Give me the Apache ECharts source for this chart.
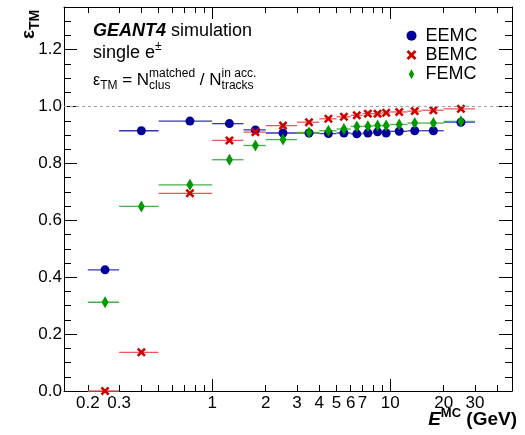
<!DOCTYPE html>
<html>
<head>
<meta charset="utf-8">
<script src="https://cdn.jsdelivr.net/npm/echarts@6/dist/echarts.min.js"></script>
<style>
  html, body { margin: 0; padding: 0; background: #fff; }
  #chart { width: 525px; height: 435px; }
</style>
</head>
<body>
<div id="chart"></div>
<script>
// Track-matching efficiency vs. true energy, single e± in three calorimeters
const binLow    = [0.2, 0.3, 0.5, 1.0, 1.5, 2, 3, 4, 5, 6, 7, 8, 9, 10, 12.5, 15, 20];
const binHigh   = [0.3, 0.5, 1.0, 1.5, 2.0, 3, 4, 5, 6, 7, 8, 9, 10, 12.5, 15, 20, 30];
const energyGeV = [0.25, 0.4, 0.75, 1.25, 1.75, 2.5, 3.5, 4.5, 5.5, 6.5, 7.5, 8.5, 9.5, 11.25, 13.75, 17.5, 25];

const effEEMC = [0.426, 0.915, 0.949, 0.940, 0.918, 0.907, 0.907, 0.905, 0.907, 0.904, 0.907, 0.911, 0.907, 0.913, 0.915, 0.915, 0.945];
const effBEMC = [0.000, 0.136, 0.695, 0.881, 0.910, 0.933, 0.945, 0.957, 0.964, 0.969, 0.975, 0.975, 0.978, 0.981, 0.984, 0.987, 0.992];
const effFEMC = [0.312, 0.649, 0.725, 0.813, 0.863, 0.884, 0.909, 0.915, 0.921, 0.930, 0.931, 0.933, 0.933, 0.937, 0.942, 0.942, 0.948];

const xTickLabels = ['0.2', '0.3', '1', '2', '3', '4', '5', '6', '7', '10', '20', '30'];
const xMajorTicks = [1, 10];
const xMinorTicks = [0.2, 0.3, 0.4, 0.5, 0.6, 0.7, 0.8, 0.9, 2, 3, 4, 5, 6, 7, 8, 9, 20, 30, 40];
const yTickLabels = ['0.0', '0.2', '0.4', '0.6', '0.8', '1.0', '1.2'];
const yMinorTicks = [0.05, 0.1, 0.15, 0.25, 0.3, 0.35, 0.45, 0.5, 0.55, 0.65, 0.7, 0.75,
                     0.85, 0.9, 0.95, 1.05, 1.1, 1.15, 1.25, 1.3];
const xRange = [0.147, 48.4];
const yRange = [0, 1.35];

const FONT = "'Liberation Sans', Arial, Helvetica, sans-serif";
const lg = Math.log10;

// energy axis is drawn logarithmically: positions are log10(E)
const xMin = lg(xRange[0]), xMax = lg(xRange[1]);
const xLabelPos = xTickLabels.map(s => lg(Number(s)));
const xLabelFmt = v => {
  const i = xLabelPos.findIndex(p => Math.abs(p - v) < 1e-9);
  return i >= 0 ? xTickLabels[i] : '';
};
const yMajor = yTickLabels.map(Number);

function markerData(vals) {
  return energyGeV.map((e, i) => [lg(e), vals[i]]);
}
function barData(vals) {
  return vals.map((v, i) => [lg(binLow[i]), lg(binHigh[i]), v]);
}

function barSeries(name, vals, color, extra) {
  return Object.assign({
    name: name,
    type: 'custom',
    data: barData(vals),
    encode: { x: [0, 1], y: 2 },
    clip: false,
    renderItem: function (params, api) {
      const a = api.coord([api.value(0), api.value(2)]);
      const b = api.coord([api.value(1), api.value(2)]);
      return {
        type: 'line',
        shape: { x1: a[0], y1: a[1], x2: b[0], y2: b[1] },
        style: { stroke: color, lineWidth: 1.3 }
      };
    }
  }, extra || {});
}

const X_MARK = 'path://M0,2 L2,0 L5,3 L8,0 L10,2 L7,5 L10,8 L8,10 L5,7 L2,10 L0,8 L3,5 Z';
const DIAMOND = 'path://M3,0 L6,5.5 L3,11 L0,5.5 Z';

const C_E = '#00009a', C_B = '#d00000', C_F = '#009a00';

// ---- text helpers (sub/superscript runs) ----
const ctx = document.createElement('canvas').getContext('2d');
function fontStr(p) {
  return (p.italic ? 'italic ' : '') + (p.bold ? 'bold ' : '') + p.size + 'px ' + FONT;
}
function measure(t, f) { ctx.font = f; return ctx.measureText(t).width; }
function runWidth(parts) {
  let w = 0;
  for (const p of parts) {
    if (p.stack) w += Math.max.apply(null, p.stack.map(s => measure(s.t, fontStr(s))));
    else w += measure(p.t, fontStr(p));
  }
  return w;
}
function textRun(x, baseline, parts) {
  const out = [];
  let cx = x;
  const put = (p) => {
    out.push({
      type: 'text', x: cx, y: baseline + (p.dy || 0) - 0.35 * p.size,
      style: { text: p.t, font: fontStr(p), fill: '#000', verticalAlign: 'middle', align: 'left' }
    });
    return measure(p.t, fontStr(p));
  };
  for (const p of parts) {
    if (p.stack) {
      let w = 0;
      for (const s of p.stack) w = Math.max(w, put(s));
      cx += w;
    } else {
      cx += put(p);
    }
  }
  return out;
}

const line1 = [
  { t: 'GEANT4', size: 18, bold: true, italic: true },
  { t: ' simulation', size: 18 }
];
const line2 = [
  { t: 'single e', size: 18 },
  { t: '±', size: 12, dy: -8 }
];
const line3 = [
  { t: 'ε', size: 16 },
  { t: 'TM', size: 12, dy: 4 },
  { t: ' = N', size: 17 },
  { stack: [{ t: 'matched', size: 12, dy: -8 }, { t: 'clus', size: 12, dy: 4 }] },
  { t: ' / N', size: 17 },
  { stack: [{ t: 'in acc.', size: 12, dy: -8 }, { t: 'tracks', size: 12, dy: 4 }] }
];
const xTitle = [
  { t: 'E', size: 19, bold: true, italic: true },
  { t: 'MC', size: 13, bold: true, dy: -8 },
  { t: ' (GeV)', size: 19, bold: true }
];
const yTitle = [
  { t: 'ε', size: 19, bold: true },
  { t: 'TM', size: 14, bold: true, dy: 5 }
];

const graphics = []
  .concat(textRun(93, 37, line1))
  .concat(textRun(93, 59, line2))
  .concat(textRun(93, 86, line3))
  .concat(textRun(517 - runWidth(xTitle), 426, xTitle));
graphics.push({
  type: 'group', x: 35, y: 39, rotation: Math.PI / 2,
  children: textRun(0, 0, yTitle)
});

function xAxisDef(position, ticks, len, withLine, withLabels) {
  return {
    type: 'value', position: position, min: xMin, max: xMax,
    axisLine: { show: withLine, onZero: false, lineStyle: { color: '#000', width: 1 } },
    axisTick: { show: true, inside: true, length: len, customValues: ticks.map(lg),
                lineStyle: { color: '#000', width: 1 } },
    axisLabel: withLabels
      ? { show: true, customValues: xLabelPos, formatter: xLabelFmt, fontSize: 17,
          fontFamily: FONT, color: '#000', margin: 4 }
      : { show: false },
    splitLine: { show: false }
  };
}
function yAxisDef(position, ticks, len, withLine, withLabels) {
  return {
    type: 'value', position: position, min: yRange[0], max: yRange[1],
    axisLine: { show: withLine, onZero: false, lineStyle: { color: '#000', width: 1 } },
    axisTick: { show: true, inside: true, length: len, customValues: ticks,
                lineStyle: { color: '#000', width: 1 } },
    axisLabel: withLabels
      ? { show: true, customValues: yMajor, formatter: v => v.toFixed(1), fontSize: 17,
          fontFamily: FONT, color: '#000', margin: 2 }
      : { show: false },
    splitLine: { show: false }
  };
}

const chart = echarts.init(document.getElementById('chart'), null, { renderer: 'canvas' });
chart.setOption({
  animation: false,
  backgroundColor: '#fff',
  textStyle: { fontFamily: FONT },
  grid: { left: 64, right: 13, top: 7, bottom: 44, containLabel: false, outerBoundsMode: 'none' },
  xAxis: [
    xAxisDef('bottom', xMajorTicks, 12, true, true),
    xAxisDef('bottom', xMinorTicks, 6, false, false),
    xAxisDef('top', xMajorTicks, 12, true, false),
    xAxisDef('top', xMinorTicks, 6, false, false)
  ],
  yAxis: [
    yAxisDef('left', yMajor, 13, true, true),
    yAxisDef('left', yMinorTicks, 7, false, false),
    yAxisDef('right', yMajor, 13, true, false),
    yAxisDef('right', yMinorTicks, 7, false, false)
  ],
  legend: {
    orient: 'vertical', left: 406.5, top: 26, padding: 0,
    itemWidth: 10, itemHeight: 10, itemGap: 0, selectedMode: false,
    textStyle: { fontSize: 18, color: '#000', fontFamily: FONT, lineHeight: 19.3, padding: [0, 0, 0, 4] },
    data: [
      { name: 'EEMC', icon: 'circle', itemStyle: { color: C_E } },
      { name: 'BEMC', icon: X_MARK, itemStyle: { color: C_B } },
      { name: 'FEMC', icon: DIAMOND, itemStyle: { color: C_F } }
    ]
  },
  graphic: graphics,
  series: [
    barSeries('EEMC bins', effEEMC, '#3535b0', {
      markLine: {
        silent: true, symbol: ['none', 'none'], label: { show: false },
        lineStyle: { type: [3, 3], color: '#a0a0a0', width: 1 },
        data: [{ yAxis: 1 }]
      }
    }),
    { name: 'EEMC', type: 'scatter', data: markerData(effEEMC), symbol: 'circle', symbolSize: 9,
      itemStyle: { color: C_E, opacity: 1 }, clip: false },
    barSeries('BEMC bins', effBEMC, '#e85a5a'),
    { name: 'BEMC', type: 'scatter', data: markerData(effBEMC), symbol: X_MARK, symbolSize: 9,
      itemStyle: { color: C_B, opacity: 1 }, clip: false },
    barSeries('FEMC bins', effFEMC, '#48b048'),
    { name: 'FEMC', type: 'scatter', data: markerData(effFEMC), symbol: DIAMOND, symbolSize: [7, 12],
      itemStyle: { color: C_F, opacity: 1 }, clip: false }
  ]
});
</script>
</body>
</html>
